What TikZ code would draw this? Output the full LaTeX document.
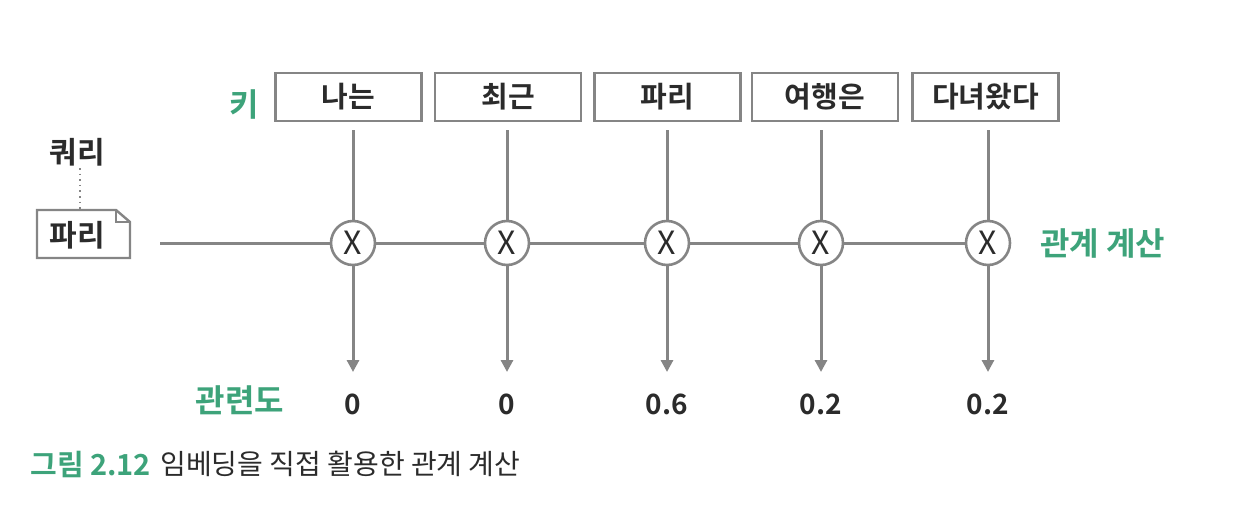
\documentclass[tikz,border=0pt]{standalone}
\usepackage{fontspec}
\setmainfont{Noto Sans CJK KR}
\newfontfamily\kbold{Noto Sans CJK KR Bold}
\usetikzlibrary{arrows.meta}
\definecolor{kgreen}{HTML}{3DA37A}
\definecolor{lgray}{HTML}{858585}
\definecolor{ktext}{HTML}{2B2B2B}
\tikzset{
  keybox/.style={draw=lgray, line width=1.3pt, minimum width=73pt, minimum height=24pt, inner sep=0pt, font=\kbold\fontsize{14.5}{14.5}\selectfont, text=ktext},
  mult/.style={circle, draw=lgray, line width=1.3pt, fill=white, minimum size=22pt, inner sep=0pt, font=\fontsize{16}{16}\selectfont, text=ktext},
  wire/.style={draw=lgray, line width=1.5pt},
  arr/.style={wire, -{Triangle[length=6pt,width=6pt]}},
  glabel/.style={text=kgreen, font=\kbold\fontsize{16}{16}\selectfont, inner sep=0pt},
  val/.style={text=ktext, font=\kbold\fontsize{14}{14}\selectfont, inner sep=0pt},
  qtext/.style={text=ktext, font=\kbold\fontsize{15}{15}\selectfont, inner sep=0pt},
}
\begin{document}
\begin{tikzpicture}[x=0.5pt,y=-0.5pt]
\useasboundingbox (0,0) rectangle (1248,530);
% key boxes
\node[keybox] (k1) at (348.5,97) {나는};
\node[keybox] (k2) at (508,97) {최근};
\node[keybox] (k3) at (667.5,97) {파리};
\node[keybox] (k4) at (825,97) {여행은};
\node[keybox] (k5) at (985.5,97) {다녀왔다};
\node[glabel, anchor=center] (keylbl) at (244,104) {키};
% multiply circles
\node[mult] (m1) at (353,243) {X};
\node[mult] (m2) at (507,243) {X};
\node[mult] (m3) at (667,243) {X};
\node[mult] (m4) at (821,243) {X};
\node[mult] (m5) at (988,243) {X};
% value labels
\node[val] (v1) at (353,404) {0};
\node[val] (v2) at (507,404) {0};
\node[val] (v3) at (667,404) {0.6};
\node[val] (v4) at (821,404) {0.2};
\node[val] (v5) at (988,404) {0.2};
\node[glabel] (rel) at (240,400) {관련도};
\node[glabel, anchor=west] (calc) at (1040,243) {관계 계산};
% query
\node[qtext] (ql) at (77,152) {쿼리};
\draw[draw=lgray, line width=1.2pt, fill=white] (37,210) -- (116,210) -- (130,222) -- (130,258) -- (37,258) -- cycle;
\draw[draw=lgray, line width=1pt] (116,210) -- (116,222) -- (130,222);
\node[qtext] (q) at (77,235) {파리};
\coordinate (dtop) at (80,168);
\coordinate (dbot) at (80,209);
\draw[draw=lgray, line width=0.8pt, dotted] (dtop) -- (dbot);
\coordinate (qstart) at (160,243);
% wires
\draw[wire] (qstart) -- (m1) -- (m2) -- (m3) -- (m4) -- (m5);
\foreach \i in {1,...,5}{
  \draw[wire] (m\i |- 0,130) -- (m\i);
}
\foreach \i in {1,...,5}{
  \draw[arr] (m\i) -- (m\i |- 0,372);
}
% caption
\node[anchor=west, inner sep=0pt, text=kgreen, font=\kbold\fontsize{14.5}{14.5}\selectfont] (cap1) at (30,464) {그림 2.12};
\node[anchor=west, inner sep=0pt, text=ktext, font=\fontsize{14}{14}\selectfont] (cap2) at (160,464) {임베딩을 직접 활용한 관계 계산};
\end{tikzpicture}
\end{document}
